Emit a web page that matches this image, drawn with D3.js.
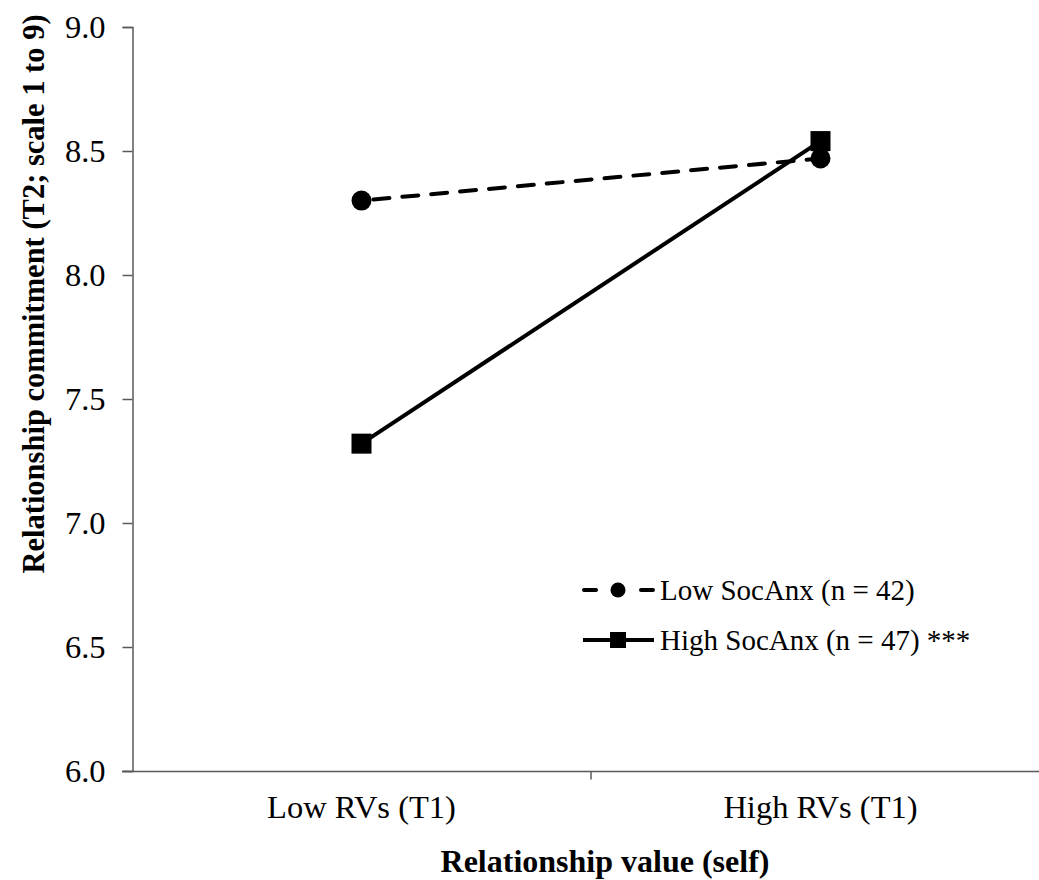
<!DOCTYPE html>
<html>
<head>
  <meta charset="utf-8">
  <script src="https://cdn.jsdelivr.net/npm/d3@7"></script>
  <style>
    body { margin: 0; background: #fff; }
    svg text { font-family: "Liberation Serif", "Times New Roman", serif; fill: #000; }
  </style>
</head>
<body>
<div id="chart"></div>
<script>
  // chart data
  var categories = ["Low RVs (T1)", "High RVs (T1)"];
  var lowSocAnx = [8.30, 8.47];
  var highSocAnx = [7.32, 8.54];
  var seriesNames = ["Low SocAnx (n = 42)", "High SocAnx (n = 47) ***"];
  var yTicks = [6.0, 6.5, 7.0, 7.5, 8.0, 8.5, 9.0];

  var width = 1039, height = 880;
  var x0 = 132, x1 = 1050, yTop = 27, yBot = 771;

  var svg = d3.select("#chart").append("svg")
    .attr("width", width)
    .attr("height", height);

  var x = d3.scaleBand().domain(categories).range([x0, x1]);
  var y = d3.scaleLinear().domain([6, 9]).range([yBot, yTop]);

  // y axis
  var yAxis = svg.append("g")
    .attr("transform", "translate(" + (x0 + 0.5) + ",0)")
    .call(d3.axisLeft(y).tickValues(yTicks).tickFormat(d3.format(".1f")).tickSizeOuter(0).tickSize(10).tickPadding(17));
  yAxis.selectAll("text").style("font-size", "32.5px");
  yAxis.select(".domain").attr("stroke", "#595959").attr("stroke-width", 1.5);
  yAxis.selectAll(".tick line").attr("stroke", "#595959").attr("stroke-width", 1.5);

  // x axis - tick at band boundary
  var xAxis = svg.append("g")
    .attr("transform", "translate(0," + (yBot + 0.5) + ")");
  xAxis.append("line")
    .attr("x1", x0 - 10).attr("x2", x1)
    .attr("stroke", "#595959").attr("stroke-width", 1.5);
  xAxis.selectAll(".tk")
    .data([x.domain()[1]])
    .enter().append("line")
    .attr("x1", function(d) { return x(d); })
    .attr("x2", function(d) { return x(d); })
    .attr("y1", 0).attr("y2", 8)
    .attr("stroke", "#595959").attr("stroke-width", 1.5);
  xAxis.selectAll(".lbl")
    .data(categories)
    .enter().append("text")
    .attr("x", function(d) { return x(d) + x.bandwidth() / 2; })
    .attr("y", 46)
    .attr("text-anchor", "middle")
    .style("font-size", "32.5px")
    .text(function(d) { return d; });

  // axis titles
  svg.append("text")
    .attr("x", 605).attr("y", 872)
    .attr("text-anchor", "middle")
    .style("font-size", "32px").style("font-weight", "bold")
    .text("Relationship value (self)");
  svg.append("text")
    .attr("transform", "translate(44,294) rotate(-90)")
    .attr("text-anchor", "middle")
    .style("font-size", "30.5px").style("font-weight", "bold")
    .text("Relationship commitment (T2; scale 1 to 9)");

  var cx = function(i) { return x(categories[i]) + x.bandwidth() / 2; };
  var line = d3.line().x(function(d, i) { return cx(i); }).y(function(d) { return y(d); });

  // Low SocAnx: dashed with circles
  svg.append("path").datum(lowSocAnx)
    .attr("d", line).attr("fill", "none")
    .attr("stroke", "#000").attr("stroke-width", 4)
    .attr("stroke-dasharray", "16,13").attr("stroke-dashoffset", -12)
    .attr("stroke-linecap", "round");
  svg.selectAll(".c").data(lowSocAnx).enter().append("circle")
    .attr("cx", function(d, i) { return cx(i); })
    .attr("cy", function(d) { return y(d); })
    .attr("r", 10).attr("fill", "#000");

  // High SocAnx: solid with squares
  svg.append("path").datum(highSocAnx)
    .attr("d", line).attr("fill", "none")
    .attr("stroke", "#000").attr("stroke-width", 4);
  svg.selectAll(".s").data(highSocAnx).enter().append("rect")
    .attr("x", function(d, i) { return cx(i) - 10; })
    .attr("y", function(d) { return y(d) - 10; })
    .attr("width", 20).attr("height", 20).attr("fill", "#000");

  // legend
  var lg = svg.append("g");
  var ly = [590, 640];
  lg.append("line").attr("x1", 584).attr("x2", 596).attr("y1", ly[0]).attr("y2", ly[0])
    .attr("stroke", "#000").attr("stroke-width", 4).attr("stroke-linecap", "round");
  lg.append("line").attr("x1", 641).attr("x2", 653).attr("y1", ly[0]).attr("y2", ly[0])
    .attr("stroke", "#000").attr("stroke-width", 4).attr("stroke-linecap", "round");
  lg.append("circle").attr("cx", 618).attr("cy", ly[0]).attr("r", 7.5).attr("fill", "#000");
  lg.append("line").attr("x1", 583).attr("x2", 654).attr("y1", ly[1]).attr("y2", ly[1])
    .attr("stroke", "#000").attr("stroke-width", 4);
  lg.append("rect").attr("x", 610).attr("y", ly[1] - 8).attr("width", 16).attr("height", 16).attr("fill", "#000");
  lg.selectAll(".lt").data(seriesNames).enter().append("text")
    .attr("x", 660).attr("y", function(d, i) { return ly[i] + 10; })
    .style("font-size", "29px")
    .text(function(d) { return d; });
</script>
</body>
</html>
